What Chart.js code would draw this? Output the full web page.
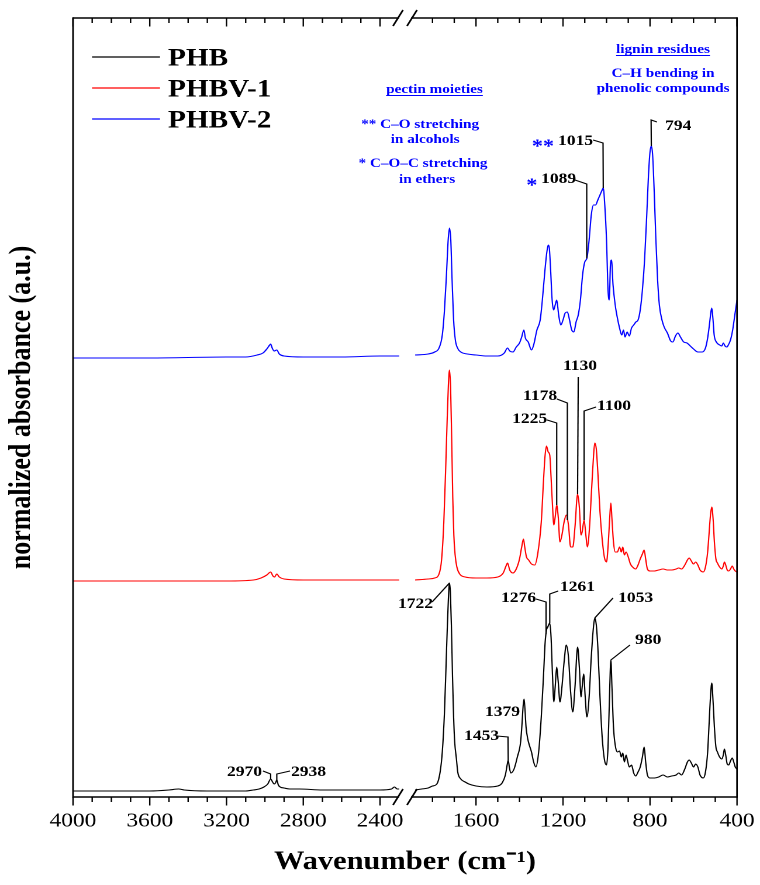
<!DOCTYPE html>
<html><head><meta charset="utf-8">
<title>FTIR spectra</title>
<script src="https://cdn.jsdelivr.net/npm/chart.js@4.4.1/dist/chart.umd.min.js"></script>
<style>
html,body{margin:0;padding:0;background:#fff;overflow:hidden}
#chart{display:block;width:760px !important;height:885px !important}
</style></head><body>
<canvas id="chart" width="650" height="885" style="width:760px;height:885px"></canvas>
<script>
// ---------------- data ----------------
const seriesNames = ['PHB', 'PHBV-1', 'PHBV-2'];
const seriesColors = ['#000000', '#ff0000', '#0000ff'];

const phbWn = [4000,3800,3600,3500,3450,3420,3300,3200,3100,3060,3030,3005,2985,2970,2960,2952,2945,2938,2930,2920,2900,2870,2820,2700,2500,2400,2340,2325,2310,2300,
 1880,1850,1820,1800,1780,1765,1755,1745,1738,1732,1727,1722,1718,1713,1708,1703,1698,1690,1684,1670,1650,1633,1600,1550,1500,1480,1465,1456,1452,1447,1440,1425,1410,1395,1388,1383,1379,1375,1370,1362,1355,1345,1335,1325,1312,1300,1290,1282,1276,1270,1261,1255,1248,1242,1236,1229,1222,1214,1205,1195,1185,1175,1165,1155,1145,1133,1125,1117,1112,1105,1098,1090,1080,1070,1060,1054,1047,1040,1030,1020,1010,1000,993,985,980,975,968,960,950,940,932,925,918,910,905,895,885,875,866,855,845,835,827,820,812,800,780,760,740,720,700,680,668,655,640,628,620,610,600,590,580,570,555,545,535,528,522,516,510,504,497,490,480,470,463,458,452,445,438,430,422,415,408,400];
const phbAbs = [6,6,6,7,8,7,6,6,6,7,8,10,13,18,15,13,14,17,12,10,9,8,8,7,7,7,8,10,8,8,
 7,8,9,11,13,25,45,85,130,170,198,214,205,170,120,80,55,38,25,18,15,13,11,10,11,14,22,33,37,30,24,28,40,55,75,92,98,88,70,58,52,45,35,30,45,80,120,155,167,170,174,160,120,95,110,130,115,95,110,135,152,140,105,85,110,150,130,100,110,123,100,80,100,140,170,179,172,150,100,60,38,32,50,110,137,110,70,52,45,46,40,44,35,42,38,30,32,24,21,25,30,40,50,35,22,19,19,20,22,20,21,22,24,22,28,35,37,34,30,33,30,22,19,25,45,75,100,114,95,70,50,45,40,38,42,48,42,33,32,36,39,35,30,28];

const phbv1Wn = [4000,3600,3200,3060,3020,2990,2970,2958,2950,2938,2925,2900,2800,2600,2400,2300,
 1880,1820,1790,1770,1758,1748,1740,1733,1727,1722,1717,1712,1707,1702,1696,1688,1675,1650,1600,1550,1500,1475,1462,1455,1445,1430,1415,1400,1390,1382,1376,1368,1358,1345,1330,1315,1300,1290,1283,1276,1268,1261,1255,1248,1242,1236,1229,1222,1214,1205,1195,1185,1175,1165,1155,1145,1133,1125,1117,1112,1103,1095,1088,1078,1068,1060,1054,1047,1040,1030,1020,1010,1000,993,985,980,975,968,960,950,940,932,925,918,910,900,890,880,866,855,845,835,827,820,812,800,780,760,740,720,700,680,668,655,640,628,620,610,600,590,580,570,555,545,535,528,522,516,510,504,497,490,480,470,463,458,452,445,438,430,422,415,408,400];
const phbv1Abs = [216,216,216,217,219,222,225,221,220,223,220,218,217,217,217,217,
 217,218,219,223,238,275,325,375,412,427,410,360,300,262,242,230,223,220,219,219,220,224,231,234,227,224,228,238,250,258,250,240,237,233,232,245,275,315,340,351,345,342,320,290,272,280,292,280,255,262,275,282,272,250,250,270,303,290,262,265,277,262,250,270,310,340,354,348,325,285,258,240,235,250,280,294,278,255,245,245,250,245,250,242,245,240,233,230,228,232,238,243,247,238,228,226,226,227,228,227,227,228,229,228,232,237,239,236,233,235,232,227,225,230,245,265,282,290,278,255,238,234,230,228,231,235,232,227,226,228,231,228,226,225];

const phbv2Wn = [4000,3600,3200,3100,3040,3010,2990,2975,2970,2962,2952,2938,2925,2900,2800,2600,2400,2300,
 1880,1820,1790,1770,1755,1745,1736,1728,1722,1716,1710,1703,1695,1685,1670,1640,1600,1550,1500,1470,1455,1445,1430,1415,1400,1390,1380,1373,1360,1345,1335,1320,1305,1295,1285,1276,1268,1263,1257,1250,1243,1236,1229,1220,1210,1200,1190,1180,1170,1160,1150,1140,1130,1120,1110,1100,1090,1080,1070,1060,1050,1040,1030,1020,1015,1008,1000,993,987,982,977,970,960,950,940,930,922,915,905,895,885,875,865,855,845,835,825,815,807,800,794,788,781,773,765,757,745,735,720,705,695,683,672,660,645,630,615,600,580,560,545,535,527,520,516,511,505,495,480,470,463,455,447,440,430,420,410,400];
const phbv2Abs = [439,439,440,440,442,444,448,452,453,449,446,447,443,441,440,440,441,441,
 442,443,445,449,462,487,522,557,569,557,517,477,457,449,445,443,442,441,441,444,449,446,445,450,454,460,467,459,455,447,452,467,477,497,522,542,552,549,527,497,487,492,497,482,472,477,484,485,477,467,465,475,482,497,522,535,539,557,582,592,592,597,602,607,609,592,557,507,497,532,537,512,492,479,469,462,467,460,465,461,469,472,475,477,487,507,537,582,622,645,651,642,607,557,517,492,477,470,464,456,455,461,464,460,455,454,451,448,445,445,449,459,472,485,489,479,462,455,452,451,454,451,450,452,457,467,482,497];

const xTickLabels = [4000, 3600, 3200, 2800, 2400, 1600, 1200, 800, 400];
const xMinorTicks = [3900,3800,3700,3500,3400,3300,3100,3000,2900,2700,2600,2500,1800,1700,1500,1400,1300,1100,1000,900,700,600,500];

// ---------------- layout helpers ----------------
const FONT = "'Liberation Serif','Times New Roman',Times,serif";
const STRETCH = 760 / 650;             // the figure is horizontally stretched
const U_MAX = 664;                     // axis units across the plot
const LEFT_SLOPE = 0.19188, RIGHT_SLOPE = 0.2175, RIGHT_START_U = 337.75;
const BREAK_GAP = [326, 338];
function toU(w) { return w > 2100 ? (4000 - w) * LEFT_SLOPE : RIGHT_START_U + (1900 - w) * RIGHT_SLOPE; }

const wnArrays = [phbWn, phbv1Wn, phbv2Wn];
const absArrays = [phbAbs, phbv1Abs, phbv2Abs];

function buildPoints(wn, ab) {
  const pts = [];
  for (let i = 0; i < wn.length; i++) {
    if (i > 0 && wn[i - 1] > 2100 && wn[i] <= 2100) pts.push({x: toU(wn[i - 1]) + 1, y: null});
    pts.push({x: toU(wn[i]), y: ab[i]});
  }
  return pts;
}
function seriesAt(k, w) {
  const wn = wnArrays[k], ab = absArrays[k];
  for (let i = 0; i < wn.length - 1; i++) {
    if (wn[i] >= w && w >= wn[i + 1]) {
      const t = (wn[i] - w) / (wn[i] - wn[i + 1]);
      return ab[i] + t * (ab[i + 1] - ab[i]);
    }
  }
  return ab[ab.length - 1];
}

// ---------------- annotations ----------------
const headerNotes = [
  {text: 'lignin residues', w: 740, v: 744, underline: true},
  {text: 'C\u2013H bending in', w: 740, v: 720},
  {text: 'phenolic compounds', w: 740, v: 705},
  {text: 'pectin moieties', w: 1791, v: 704, underline: true},
  {text: '** C\u2013O stretching', w: 1857, v: 669},
  {text: 'in alcohols', w: 1834, v: 654},
  {text: '* C\u2013O\u2013C stretching', w: 1844, v: 630},
  {text: 'in ethers', w: 1825, v: 614}
];
const peakNotes = [
  {s: 2, text: '1015', w: 1223, v: 652, star: '**', starW: 1292, starV: 645, path: [[1062, 657], [1016, 654]], peak: 1015},
  {s: 2, text: '1089', w: 1301, v: 614, star: '*', starW: 1343, starV: 606, path: [[1145, 617], [1091, 613]], peak: 1091},
  {s: 2, text: '794', w: 731, v: 667, path: [[768, 675], [795, 677]], peak: 794},
  {s: 1, text: '1130', w: 1200, v: 427, path: [[1130, 420]], peak: 1133},
  {s: 1, text: '1178', w: 1384, v: 397, path: [[1228, 398], [1180, 394]], peak: 1180},
  {s: 1, text: '1100', w: 1044, v: 387, path: [[1048, 390], [1103, 386]], peak: 1103},
  {s: 1, text: '1225', w: 1434, v: 374, path: [[1273, 377], [1229, 374]], peak: 1229},
  {s: 0, text: '1722', w: 1959, v: 189, path: [[1802, 195]], peak: 1722},
  {s: 0, text: '1276', w: 1485, v: 195, path: [[1324, 198], [1278, 195]], peak: 1278},
  {s: 0, text: '1261', w: 1214, v: 206, path: [[1222, 206], [1261, 203]], peak: 1261},
  {s: 0, text: '1053', w: 947, v: 195, path: [[970, 199]], peak: 1054},
  {s: 0, text: '980', w: 869, v: 153, path: [[892, 152]], peak: 980},
  {s: 0, text: '1453', w: 1655, v: 57, path: [[1505, 61], [1453, 60]], peak: 1452},
  {s: 0, text: '1379', w: 1559, v: 81, path: [], peak: null},
  {s: 0, text: '2970', w: 3015, v: 21, align: 'right', path: [[3010, 26], [2970, 23]], peak: 2970},
  {s: 0, text: '2938', w: 2864, v: 21, path: [[2869, 26], [2938, 23]], peak: 2938}
];

const framePlugin = {
  id: 'frame',
  afterDatasetsDraw(chart) {
    const {ctx, chartArea: {left, right, top, bottom}, scales: {x}} = chart;
    ctx.save();
    ctx.strokeStyle = '#000';
    const hw = 1.6, vw = 1.6 / STRETCH;
    const gL = x.getPixelForValue(BREAK_GAP[0]), gR = x.getPixelForValue(BREAK_GAP[1]);
    ctx.lineWidth = hw;
    [top, bottom].forEach(y => {
      ctx.beginPath(); ctx.moveTo(left, y); ctx.lineTo(gL, y); ctx.moveTo(gR, y); ctx.lineTo(right, y); ctx.stroke();
    });
    ctx.lineWidth = vw;
    ctx.beginPath();
    ctx.moveTo(left, top - hw / 2); ctx.lineTo(left, bottom + hw / 2);
    ctx.moveTo(right, top - hw / 2); ctx.lineTo(right, bottom + hw / 2);
    ctx.stroke();
    // ticks
    ctx.lineWidth = 1.4 / STRETCH;
    const drawTick = (w, len) => {
      const px = x.getPixelForValue(toU(w));
      ctx.beginPath();
      ctx.moveTo(px, bottom); ctx.lineTo(px, bottom + len);
      ctx.moveTo(px, top); ctx.lineTo(px, top + len);
      ctx.stroke();
    };
    xTickLabels.forEach(w => drawTick(w, 8.5));
    xMinorTicks.forEach(w => drawTick(w, 5));
    // break marks
    ctx.lineWidth = 1.5;
    [top, bottom].forEach(y => {
      [[320, 330], [334, 344]].forEach(([a, b]) => {
        ctx.beginPath();
        ctx.moveTo(x.getPixelForValue(a), y + 8);
        ctx.lineTo(x.getPixelForValue(b), y - 8);
        ctx.stroke();
      });
    });
    ctx.restore();
  }
};

const notesPlugin = {
  id: 'notes',
  afterDraw(chart) {
    const {ctx, scales: {x, y}} = chart;
    const P = (w, v) => [x.getPixelForValue(toU(w)), y.getPixelForValue(v)];
    ctx.save();
    // legend
    ctx.font = 'bold 25px ' + FONT;
    ctx.textBaseline = 'alphabetic';
    ctx.textAlign = 'left';
    const legY = [57, 88, 119];
    seriesNames.forEach((n, k) => {
      ctx.strokeStyle = seriesColors[k];
      ctx.lineWidth = 1.2;
      ctx.beginPath(); ctx.moveTo(92 / STRETCH, legY[k]); ctx.lineTo(160 / STRETCH, legY[k]); ctx.stroke();
      ctx.fillStyle = '#000';
      ctx.fillText(n, 168 / STRETCH, legY[k] + 8.5);
    });
    // header notes (blue)
    ctx.font = 'bold 13px ' + FONT;
    ctx.fillStyle = '#0000ff';
    ctx.strokeStyle = '#0000ff';
    ctx.textAlign = 'center';
    headerNotes.forEach(n => {
      const [px, py] = P(n.w, n.v);
      ctx.fillText(n.text, px, py);
      if (n.underline) {
        const tw = ctx.measureText(n.text).width;
        ctx.lineWidth = 1;
        ctx.beginPath(); ctx.moveTo(px - tw / 2, py + 2.5); ctx.lineTo(px + tw / 2, py + 2.5); ctx.stroke();
      }
    });
    // peak labels
    peakNotes.forEach(n => {
      const [tx, ty] = P(n.w, n.v);
      ctx.fillStyle = '#000';
      ctx.font = 'bold 15px ' + FONT;
      ctx.textAlign = n.align || 'left';
      ctx.fillText(n.text, tx, ty);
      if (n.star) {
        const [sx, sy] = P(n.starW, n.starV);
        ctx.fillStyle = '#0000ff';
        ctx.font = 'bold 19px ' + FONT;
        ctx.textAlign = 'center';
        ctx.fillText(n.star, sx, sy);
      }
      if (n.peak === null) return;
      ctx.strokeStyle = '#000';
      ctx.lineWidth = 1.1;
      ctx.beginPath();
      n.path.forEach(([w, v], i) => { const [a, b] = P(w, v); if (i === 0) ctx.moveTo(a, b); else ctx.lineTo(a, b); });
      const [qx, qy] = P(n.peak, seriesAt(n.s, n.peak));
      ctx.lineTo(qx, qy);
      ctx.stroke();
    });
    ctx.restore();
  }
};

new Chart(document.getElementById('chart'), {
  type: 'line',
  data: {
    datasets: seriesNames.map((name, k) => ({
      label: name,
      data: buildPoints(wnArrays[k], absArrays[k]),
      borderColor: seriesColors[k],
      borderWidth: 1.1,
      pointRadius: 0,
      fill: false,
      cubicInterpolationMode: 'monotone',
      spanGaps: false
    }))
  },
  options: {
    responsive: false,
    animation: false,
    devicePixelRatio: 2,
    layout: {padding: {left: 0, right: 650 - 737 / STRETCH, top: 18, bottom: 0}},
    plugins: {legend: {display: false}, tooltip: {enabled: false}},
    scales: {
      x: {
        type: 'linear', min: 0, max: U_MAX,
        grid: {display: false, drawTicks: false},
        border: {display: false},
        afterBuildTicks: s => { s.ticks = xTickLabels.map(w => ({value: toU(w)})); },
        afterFit: s => { s.height = 88; s.paddingLeft = 0; s.paddingRight = 0; },
        ticks: {autoSkip: false, maxRotation: 0, padding: 12, color: '#000',
          font: {family: FONT, size: 20},
          callback: (v, i) => String(xTickLabels[i])},
        title: {display: true, text: 'Wavenumber (cm\u207B\u00B9)', color: '#000',
          font: {family: FONT, size: 26, weight: 'bold'}, padding: {top: 0, bottom: 7}}
      },
      y: {
        type: 'linear', min: 0, max: 779,
        grid: {display: false},
        border: {display: false},
        ticks: {display: false},
        afterFit: s => { s.width = 73 / STRETCH; s.paddingTop = 0; s.paddingBottom = 0; },
        title: {display: true, text: 'normalized absorbance (a.u.)', color: '#000',
          font: {family: FONT, size: 26, weight: 'bold'}, padding: {top: 3, bottom: 0}}
      }
    }
  },
  plugins: [framePlugin, notesPlugin]
});
</script>
</body></html>
